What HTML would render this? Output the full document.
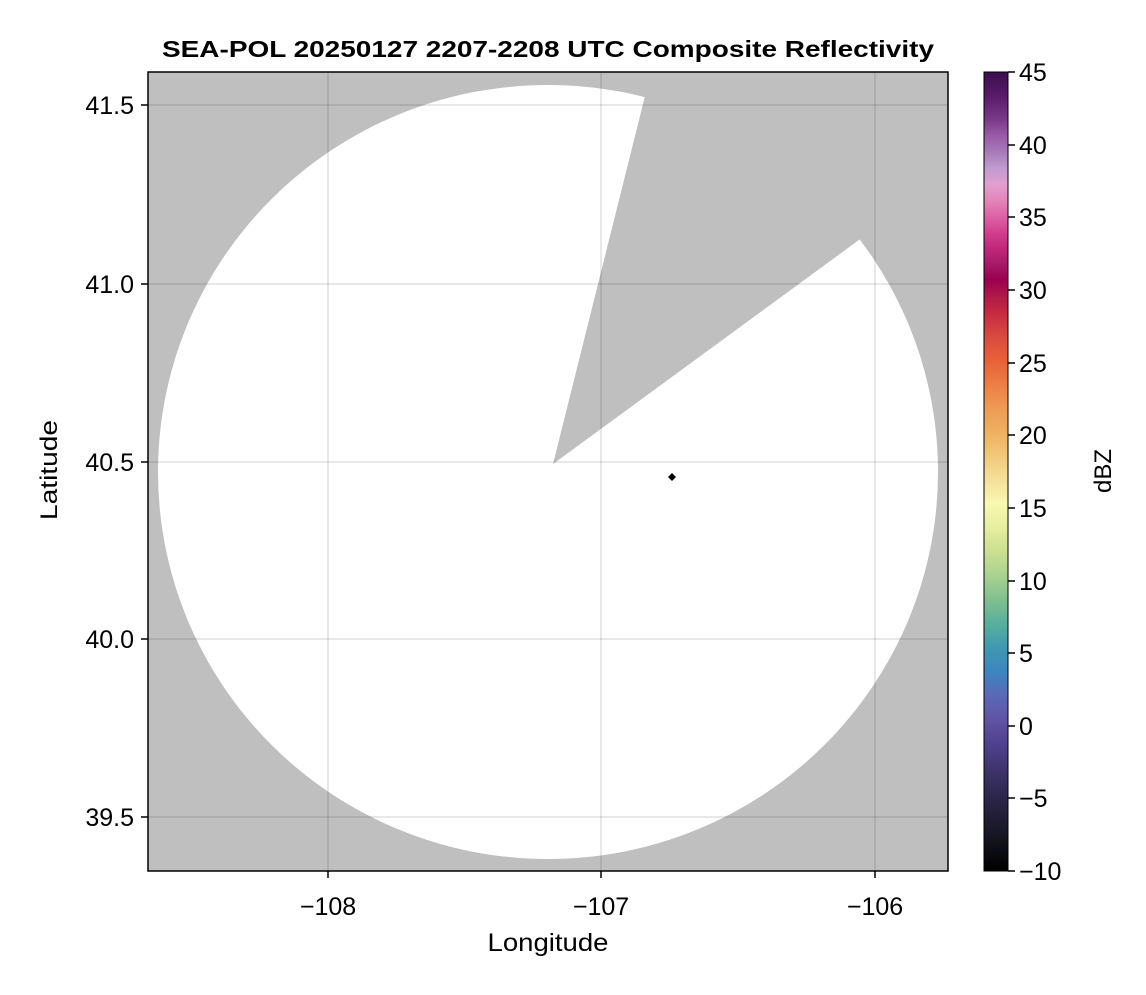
<!DOCTYPE html>
<html><head><style>
body{margin:0;background:#fff;}
svg text{font-family:"Liberation Sans",sans-serif;}
</style></head><body>
<svg width="1146" height="990" xmlns="http://www.w3.org/2000/svg">
<defs>
<clipPath id="pc"><rect x="148" y="72" width="800" height="799"/></clipPath>
<linearGradient id="cb" x1="0" y1="0" x2="0" y2="1">
<stop offset="0" stop-color="#3b0f4f"/><stop offset="0.03" stop-color="#5a1a6a"/><stop offset="0.06" stop-color="#7b3a8a"/><stop offset="0.08" stop-color="#9a5ba8"/><stop offset="0.1" stop-color="#a67bb8"/><stop offset="0.12" stop-color="#c09ad0"/><stop offset="0.14" stop-color="#e0a0d0"/><stop offset="0.16" stop-color="#e585b8"/><stop offset="0.18" stop-color="#dd64a8"/><stop offset="0.2" stop-color="#d3408f"/><stop offset="0.22" stop-color="#c2287a"/><stop offset="0.24" stop-color="#a81a68"/><stop offset="0.26" stop-color="#9a0050"/><stop offset="0.28" stop-color="#b01848"/><stop offset="0.3" stop-color="#c42840"/><stop offset="0.33" stop-color="#d84a40"/><stop offset="0.36" stop-color="#e86038"/><stop offset="0.39" stop-color="#ed7c44"/><stop offset="0.42" stop-color="#ee9a55"/><stop offset="0.45" stop-color="#eeb060"/><stop offset="0.48" stop-color="#f0c878"/><stop offset="0.51" stop-color="#f4e09a"/><stop offset="0.54" stop-color="#f8f8b0"/><stop offset="0.57" stop-color="#e6eea0"/><stop offset="0.6" stop-color="#cce090"/><stop offset="0.63" stop-color="#a8d290"/><stop offset="0.66" stop-color="#80c090"/><stop offset="0.69" stop-color="#58b09c"/><stop offset="0.72" stop-color="#4098b0"/><stop offset="0.75" stop-color="#3c86c2"/><stop offset="0.78" stop-color="#5a68b8"/><stop offset="0.81" stop-color="#6254a4"/><stop offset="0.84" stop-color="#504290"/><stop offset="0.87" stop-color="#40356e"/><stop offset="0.9" stop-color="#302a52"/><stop offset="0.93" stop-color="#221e36"/><stop offset="0.96" stop-color="#141420"/><stop offset="1" stop-color="#000"/>
</linearGradient>
</defs>
<text x="548" y="57" text-anchor="middle" font-size="23" font-weight="bold" textLength="772" lengthAdjust="spacingAndGlyphs">SEA-POL 20250127 2207-2208 UTC Composite Reflectivity</text>
<rect x="148" y="72" width="800" height="799" fill="#bfbfbf"/>
<g clip-path="url(#pc)">
<ellipse cx="548" cy="472" rx="390" ry="387" fill="#fff"/>
<polygon points="553,464 654,60 960,60 960,166" fill="#bfbfbf"/>
</g>
<g stroke="#000" stroke-opacity="0.12" stroke-width="1.5">
<line x1="328" y1="72" x2="328" y2="871"/><line x1="601" y1="72" x2="601" y2="871"/><line x1="875" y1="72" x2="875" y2="871"/>
<line x1="148" y1="105" x2="948" y2="105"/><line x1="148" y1="284" x2="948" y2="284"/><line x1="148" y1="462" x2="948" y2="462"/><line x1="148" y1="639" x2="948" y2="639"/><line x1="148" y1="817" x2="948" y2="817"/>
</g>
<path d="M672,473 L676,477 L672,481 L668,477 Z" fill="#000"/>
<rect x="148" y="72" width="800" height="799" fill="none" stroke="#000" stroke-width="1.5"/>
<g stroke="#000" stroke-width="1.5">
<line x1="328" y1="871" x2="328" y2="878"/><line x1="601" y1="871" x2="601" y2="878"/><line x1="875" y1="871" x2="875" y2="878"/>
<line x1="141" y1="105" x2="148" y2="105"/><line x1="141" y1="284" x2="148" y2="284"/><line x1="141" y1="462" x2="148" y2="462"/><line x1="141" y1="639" x2="148" y2="639"/><line x1="141" y1="817" x2="148" y2="817"/>
</g>
<g font-size="25" text-anchor="middle">
<text x="328" y="915">−108</text><text x="601" y="915">−107</text><text x="875" y="915">−106</text>
<text x="548" y="951" textLength="121" lengthAdjust="spacingAndGlyphs">Longitude</text>
</g>
<g font-size="25" text-anchor="end">
<text x="134" y="114">41.5</text><text x="134" y="293">41.0</text><text x="134" y="471">40.5</text><text x="134" y="648">40.0</text><text x="134" y="826">39.5</text>
</g>
<text transform="translate(57,470) rotate(-90)" font-size="24" text-anchor="middle" textLength="100" lengthAdjust="spacingAndGlyphs">Latitude</text>
<rect x="984" y="72" width="24" height="799" fill="url(#cb)" stroke="#000" stroke-width="1"/>
<g stroke="#000" stroke-width="1.5">
<line x1="1008" y1="72" x2="1015" y2="72"/><line x1="1008" y1="145" x2="1015" y2="145"/><line x1="1008" y1="217" x2="1015" y2="217"/><line x1="1008" y1="290" x2="1015" y2="290"/><line x1="1008" y1="363" x2="1015" y2="363"/><line x1="1008" y1="435" x2="1015" y2="435"/><line x1="1008" y1="508" x2="1015" y2="508"/><line x1="1008" y1="581" x2="1015" y2="581"/><line x1="1008" y1="653" x2="1015" y2="653"/><line x1="1008" y1="726" x2="1015" y2="726"/><line x1="1008" y1="798" x2="1015" y2="798"/><line x1="1008" y1="871" x2="1015" y2="871"/>
</g>
<g font-size="25">
<text x="1019" y="81">45</text><text x="1019" y="154">40</text><text x="1019" y="226">35</text><text x="1019" y="299">30</text><text x="1019" y="372">25</text><text x="1019" y="444">20</text><text x="1019" y="517">15</text><text x="1019" y="590">10</text><text x="1019" y="662">5</text><text x="1019" y="735">0</text><text x="1019" y="807">−5</text><text x="1019" y="880">−10</text>
</g>
<text transform="translate(1111,471) rotate(-90)" font-size="24" text-anchor="middle">dBZ</text>
</svg>
</body></html>
